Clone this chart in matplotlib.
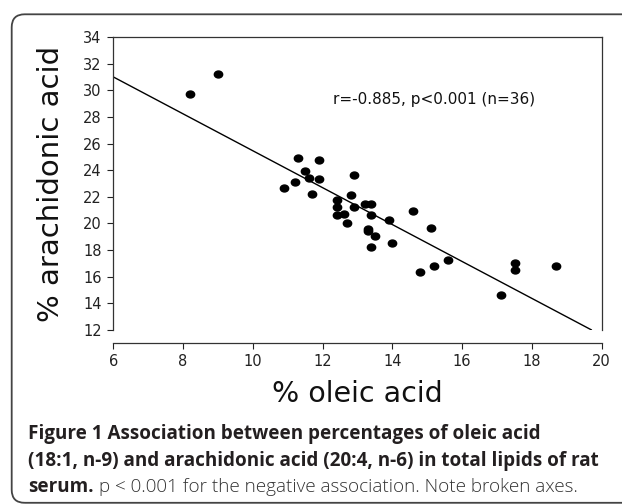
import numpy as np
import matplotlib.pyplot as plt
from matplotlib.path import Path
from matplotlib.transforms import Affine2D
from matplotlib.patches import FancyBboxPatch

# values (% of total serum lipids)
oleic = [8.2, 9.0, 11.3, 11.9, 11.5, 11.6, 11.9, 11.2, 10.9, 11.7,
         12.9, 12.8, 12.4, 12.4, 12.9, 13.2, 13.4, 12.4, 12.6, 13.4,
         12.7, 13.9, 14.6, 15.1, 13.3, 13.3, 13.5, 13.4, 14.0, 15.6,
         14.8, 15.2, 17.5, 17.5, 18.7, 17.1]
arachidonic = [29.75, 31.25, 24.95, 24.75, 23.95, 23.45, 23.33, 23.13, 22.63, 22.25,
               23.63, 22.13, 21.75, 21.25, 21.25, 21.43, 21.43, 20.63, 20.73, 20.63,
               20.03, 20.23, 20.93, 19.63, 19.6, 19.4, 19.03, 18.23, 18.53, 17.23,
               16.33, 16.83, 17.03, 16.53, 16.83, 14.63]

# regression line as drawn
fit_intercept = 39.32
fit_slope = -1.386
line_x = np.array([6.0, 19.7])

stats_text = "r=-0.885, p<0.001 (n=36)"
x_ticks = list(range(6, 21, 2))
y_ticks = list(range(12, 35, 2))

fig = plt.figure(figsize=(6.22, 5.04), dpi=100)
ax = fig.add_axes([0.1822, 0.3452, 0.7852, 0.5813])

# slightly wide dots, like the (stretched) original
dot = Path.unit_circle().transformed(Affine2D().scale(1.2, 1.0))
ax.plot(oleic, arachidonic, linestyle='none', marker=dot, markersize=6,
        color='black', zorder=3)
ax.plot(line_x, fit_intercept + fit_slope * line_x, color='black', lw=1.0)

ax.text(12.3, 29.3, stats_text, fontsize=11, va='center', ha='left', color='#111111')

ax.set_xlim(6, 20)
ax.set_ylim(12, 34)
ax.set_xticks(x_ticks)
ax.set_yticks(y_ticks)
for s in ax.spines.values():
    s.set_color('#333333')
    s.set_linewidth(0.9)
ax.spines['bottom'].set_position(('outward', 9.1))
ax.tick_params(direction='out', length=4.3, width=0.8, labelsize=10.5,
               colors='#222222')
ax.tick_params(axis='x', pad=4)
ax.tick_params(axis='y', pad=4)

ax.set_xlabel('% oleic acid', fontsize=20.5, color='#111111', labelpad=8)
ax.set_ylabel('% arachidonic acid', fontsize=21, color='#111111', labelpad=13)

# caption underneath
cap_font = 'Open Sans'
cap_size = 13.6
fig.text(28 / 622, 1 - 439 / 504, 'Figure 1 Association between percentages of oleic acid',
         fontsize=cap_size, fontweight='bold', family=cap_font, color='#231f20', va='baseline')
fig.text(28 / 622, 1 - 466 / 504, '(18:1, n-9) and arachidonic acid (20:4, n-6) in total lipids of rat',
         fontsize=cap_size, fontweight='bold', family=cap_font, color='#231f20', va='baseline')
t3 = fig.text(28 / 622, 1 - 492 / 504, 'serum.', fontsize=cap_size, fontweight='bold',
              family=cap_font, color='#231f20', va='baseline')
renderer = fig.canvas.get_renderer()
bb = t3.get_window_extent(renderer)
fig.text((bb.x1 + 5) / 622, 1 - 492 / 504,
         'p < 0.001 for the negative association. Note broken axes.',
         fontsize=cap_size, fontweight='light', family=cap_font, color='#333333', va='baseline')

# rounded frame round the whole figure (cut off at right and bottom)
frame = FancyBboxPatch((0.117, 0.012), 7.0, 4.897 - 0.012,
                       boxstyle='round,pad=0,rounding_size=0.13',
                       transform=fig.dpi_scale_trans, fill=False,
                       edgecolor='#444444', linewidth=1.3)
fig.add_artist(frame)

fig.savefig('out.png', dpi=100)
